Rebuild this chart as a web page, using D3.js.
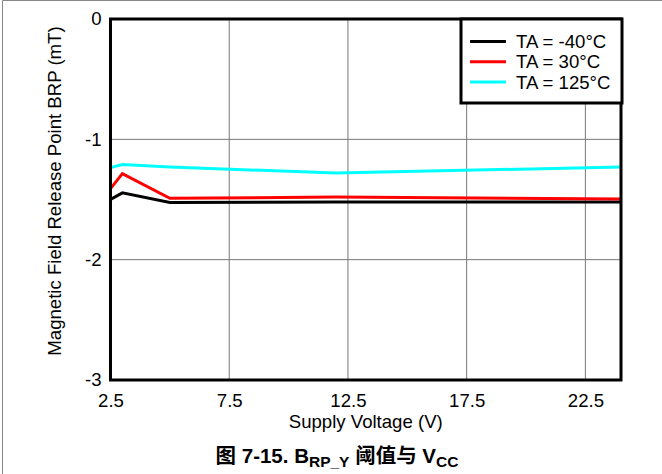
<!DOCTYPE html>
<html><head><meta charset="utf-8">
<script src="https://cdn.jsdelivr.net/npm/d3@7"></script>
<style>
body{margin:0;background:#fff;}
svg{display:block;font-family:"Liberation Sans",Arial,sans-serif;}
</style></head>
<body>
<svg id="c" width="662" height="474"></svg>
<script>
const voltages = [2.5, 3, 5, 12, 24];
const ta_m40 = [-1.50, -1.445, -1.525, -1.52, -1.52];
const ta_30 = [-1.41, -1.285, -1.49, -1.48, -1.495];
const ta_125 = [-1.235, -1.21, -1.23, -1.28, -1.23];
const seriesNames = ["TA = -40°C", "TA = 30°C", "TA = 125°C"];
const seriesColors = ["#000000", "#ff0000", "#00ffff"];
const xTicks = [2.5, 7.5, 12.5, 17.5, 22.5];
const yTicks = [0, -1, -2, -3];

const FS = 18.6;
const svg = d3.select("#c");
const L = 110.5, R = 621, T = 19, B = 380;
const x = d3.scaleLinear().domain([2.5, 24]).range([L, R]);
const y = d3.scaleLinear().domain([0, -3]).range([T, B]);

// outer border
svg.append("path").attr("d", "M2.5,474 V0.5 H662").attr("fill", "none").attr("stroke", "#888").attr("stroke-width", 1);

// grid
const g = svg.append("g");
g.selectAll(".vg").data(xTicks.slice(1)).join("line")
  .attr("x1", d => x(d)).attr("x2", d => x(d)).attr("y1", T).attr("y2", B)
  .attr("stroke", "#777").attr("stroke-width", 1);
g.selectAll(".hg").data(yTicks.slice(1, 3)).join("line")
  .attr("x1", L).attr("x2", R).attr("y1", d => y(d)).attr("y2", d => y(d))
  .attr("stroke", "#777").attr("stroke-width", 1);

// axes (labels only)
const xAxis = d3.axisBottom(x).tickValues(xTicks).tickSize(0).tickPadding(14).tickFormat(d => d.toFixed(1));
const xa = svg.append("g").attr("transform", `translate(0,${B})`).call(xAxis);
xa.select(".domain").remove();
xa.selectAll("text").attr("font-size", FS).attr("fill", "#000").attr("font-family", "Liberation Sans, Arial, sans-serif");

const yAxis = d3.axisLeft(y).tickValues(yTicks).tickSize(0).tickPadding(9).tickFormat(d => String(d));
const ya = svg.append("g").attr("transform", `translate(${L},0)`).call(yAxis);
ya.select(".domain").remove();
ya.selectAll("text").attr("font-size", FS).attr("fill", "#000").attr("font-family", "Liberation Sans, Arial, sans-serif");

// lines
const allSeries = [ta_m40, ta_30, ta_125];
const line = d3.line().x((d, i) => x(voltages[i])).y(d => y(d));
svg.append("defs").append("clipPath").attr("id", "clip")
  .append("rect").attr("x", L).attr("y", T).attr("width", R - L).attr("height", B - T);
allSeries.forEach((s, i) => {
  svg.append("path").datum(s).attr("d", line).attr("fill", "none")
    .attr("stroke", seriesColors[i]).attr("stroke-width", 3)
    .attr("clip-path", "url(#clip)");
});

// frame
svg.append("rect").attr("x", L).attr("y", T).attr("width", R - L).attr("height", B - T)
  .attr("fill", "none").attr("stroke", "#000").attr("stroke-width", 3);

// legend
const lg = svg.append("g");
lg.append("rect").attr("x", 461).attr("y", 19).attr("width", 161).attr("height", 84)
  .attr("fill", "#fff").attr("stroke", "#000").attr("stroke-width", 3);
seriesNames.forEach((n, i) => {
  const yy = 41.5 + i * 20.3;
  lg.append("line").attr("x1", 470).attr("x2", 506).attr("y1", yy).attr("y2", yy)
    .attr("stroke", seriesColors[i]).attr("stroke-width", 3);
  lg.append("text").attr("x", 516).attr("y", yy + 6.5).attr("font-size", FS).text(n);
});

// axis titles
svg.append("text").attr("x", (L + R) / 2).attr("y", 428).attr("text-anchor", "middle")
  .attr("font-size", FS).text("Supply Voltage (V)");
svg.append("text").attr("transform", "translate(61,191) rotate(-90)").attr("text-anchor", "middle")
  .attr("font-size", FS).text("Magnetic Field Release Point BRP (mT)");

// caption
const cap = svg.append("text").attr("x", 337).attr("y", 463).attr("text-anchor", "middle")
  .attr("font-size", 20.5).attr("font-weight", "bold")
  .attr("font-family", "Liberation Sans, 'Noto Sans CJK SC', sans-serif");
cap.append("tspan").text("图 7-15. B");
cap.append("tspan").attr("font-size", 15.5).attr("dy", 4).text("RP_Y");
cap.append("tspan").attr("dy", -4).text(" 阈值与 V");
cap.append("tspan").attr("font-size", 15.5).attr("dy", 4).text("CC");
</script>
</body></html>
